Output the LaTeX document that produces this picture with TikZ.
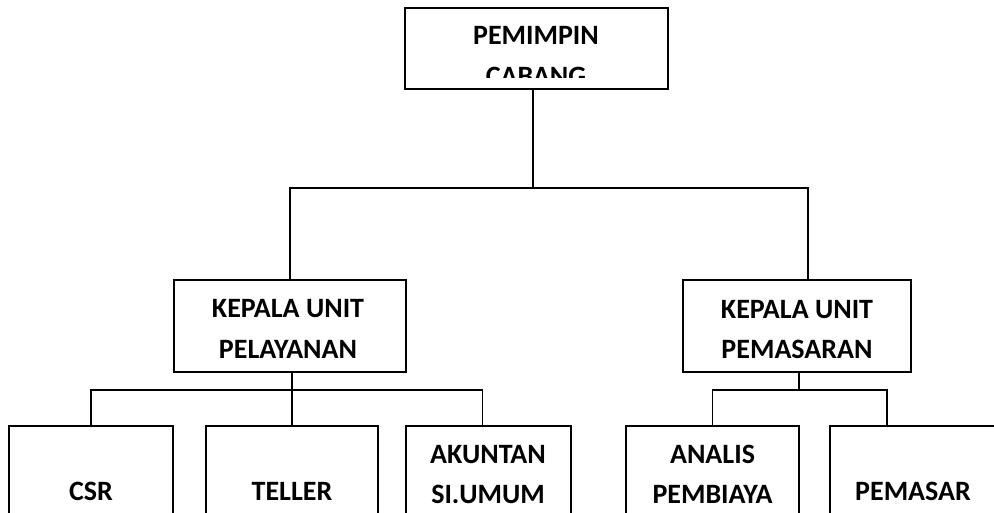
\documentclass[tikz,border=0pt]{standalone}
\usepackage{fontspec}
\setmainfont{Carlito}
\begin{document}
\begin{tikzpicture}[x=1pt,y=-1pt,
  box/.style={draw=black,line width=1.6pt,rectangle,inner sep=0pt,fill=white},
  lbl/.style={anchor=base,inner sep=0pt,font=\fontsize{28}{40}\selectfont\bfseries},
  conn/.style={draw=black,line width=1.6pt}]
\useasboundingbox (0,0) rectangle (994,513);
\clip (0,0) rectangle (994,513);
% boxes
\node[box,minimum width=263pt,minimum height=81pt] (top) at (536.5,48.5) {};
\node[box,minimum width=232pt,minimum height=92pt] (lmid) at (290,326) {};
\node[box,minimum width=228pt,minimum height=92pt] (rmid) at (797,326) {};
\node[box,minimum width=164pt,minimum height=174pt] (csr) at (91,513) {};
\node[box,minimum width=172pt,minimum height=174pt] (teller) at (292,513) {};
\node[box,minimum width=165pt,minimum height=174pt] (akun) at (488.5,513) {};
\node[box,minimum width=173pt,minimum height=174pt] (analis) at (712.5,513) {};
\node[box,minimum width=166pt,minimum height=174pt] (pemasar) at (913,513) {};
% texts
\node[lbl] (t1a) at (536,45) {PEMIMPIN};
\begin{scope}
\clip (405,8) rectangle (668,78);
\node[lbl] (t1b) at (536,86) {CABANG};
\end{scope}
\node[lbl] (t2a) at (288,318) {KEPALA UNIT};
\node[lbl] (t2b) at (288,358) {PELAYANAN};
\node[lbl] (t3a) at (797,319) {KEPALA UNIT};
\node[lbl] (t3b) at (797,359) {PEMASARAN};
\node[lbl] (t4) at (91,500) {CSR};
\node[lbl] (t5) at (292,500) {TELLER};
\node[lbl] (t6a) at (488,463) {AKUNTAN};
\node[lbl] (t6b) at (488,503) {SI.UMUM};
\node[lbl] (t7a) at (712.5,463) {ANALIS};
\node[lbl] (t7b) at (712.5,503) {PEMBIAYA};
\node[lbl] (t8) at (913,500) {PEMASAR};
% connectors
\coordinate (bus1) at (533,188);
\coordinate (bus2) at (292,390);
\coordinate (bus3) at (799,390);
\draw[conn] (top.south -| bus1) -- (bus1);
\draw[conn] (lmid.north) |- (bus1);
\draw[conn] ([xshift=11pt]rmid.north) |- (bus1);
\draw[conn] (lmid.south -| bus2) -- (bus2);
\draw[conn] (csr.north) |- (bus2);
\draw[conn] (teller.north) -- (bus2);
\draw[conn] ([xshift=-6pt]akun.north) |- (bus2);
\draw[conn] (rmid.south -| bus3) -- (bus3);
\draw[conn] (analis.north) |- (bus3);
\draw[conn] ([xshift=-26pt]pemasar.north) |- (bus3);
\end{tikzpicture}
\end{document}
